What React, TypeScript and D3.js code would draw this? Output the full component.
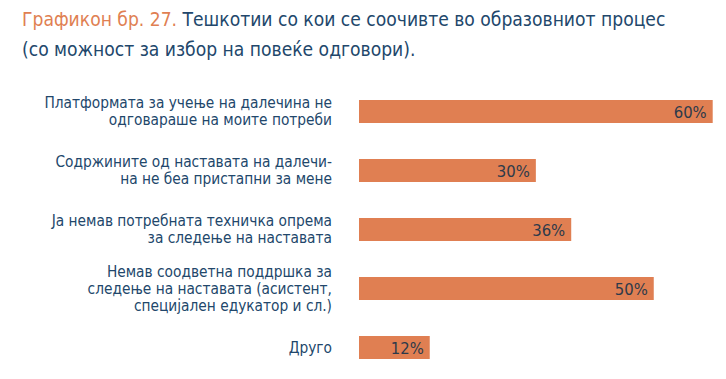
import React from "react";
import * as d3 from "d3";

const categories: string[][] = [
  ["Платформата за учење на далечина не", "одговараше на моите потреби"],
  ["Содржините од наставата на далечи-", "на не беа пристапни за мене"],
  ["Ја немав потребната техничка опрема", "за следење на наставата"],
  ["Немав соодветна поддршка за", "следење на наставата (асистент,", "специјален едукатор и сл.)"],
  ["Друго"],
];
const values: number[] = [60, 30, 36, 50, 12];
const titlePrefix = "Графикон бр. 27.";
const titleLine1 = " Тешкотии со кои се соочивте во образовниот процес";
const titleLine2 = "(со можност за избор на повеќе одговори).";

const W = 726;
const H = 379;
const FONT = "'DejaVu Sans Condensed', 'Liberation Sans Narrow', 'Roboto', sans-serif";
const BLUE = "#22476b";
const ORANGE = "#e07f52";

export default function App() {
  const x = d3.scaleLinear().domain([0, 60]).range([359, 712.7]);
  const step = 59;
  const bh = 23;
  const y = d3
    .scaleBand<number>()
    .domain(d3.range(values.length))
    .range([100, 100 + step * values.length])
    .paddingInner(0);
  const lh = 16.7;
  return (
    <svg width={W} height={H} style={{ position: "absolute", left: 0, top: 0 }}>
      <rect width={W} height={H} fill="#fff" />
      <text x={22} y={26} fontFamily={FONT} fontSize={19.1} fill={BLUE}>
        <tspan fill={ORANGE}>{titlePrefix}</tspan>
        <tspan>{titleLine1}</tspan>
      </text>
      <text x={22} y={56} fontFamily={FONT} fontSize={19.1} fill={BLUE}>
        {titleLine2}
      </text>
      {values.map((v, i) => {
        const y0 = y(i) as number;
        const yc = y0 + bh / 2;
        const lines = categories[i];
        const n = lines.length;
        return (
          <g key={i}>
            <rect x={x(0)} y={y0} width={x(v) - x(0)} height={bh} fill={ORANGE} />
            <text
              x={x(v) - 6}
              y={yc + 6}
              textAnchor="end"
              fontFamily={FONT}
              fontSize={16.5}
              fill="#2d3a4a"
            >
              {v}%
            </text>
            {lines.map((l, j) => (
              <text
                key={j}
                x={332}
                y={yc + 5.3 + (j - (n - 1) / 2) * lh}
                textAnchor="end"
                fontFamily={FONT}
                fontSize={15.3}
                fill={BLUE}
              >
                {l}
              </text>
            ))}
          </g>
        );
      })}
    </svg>
  );
}
